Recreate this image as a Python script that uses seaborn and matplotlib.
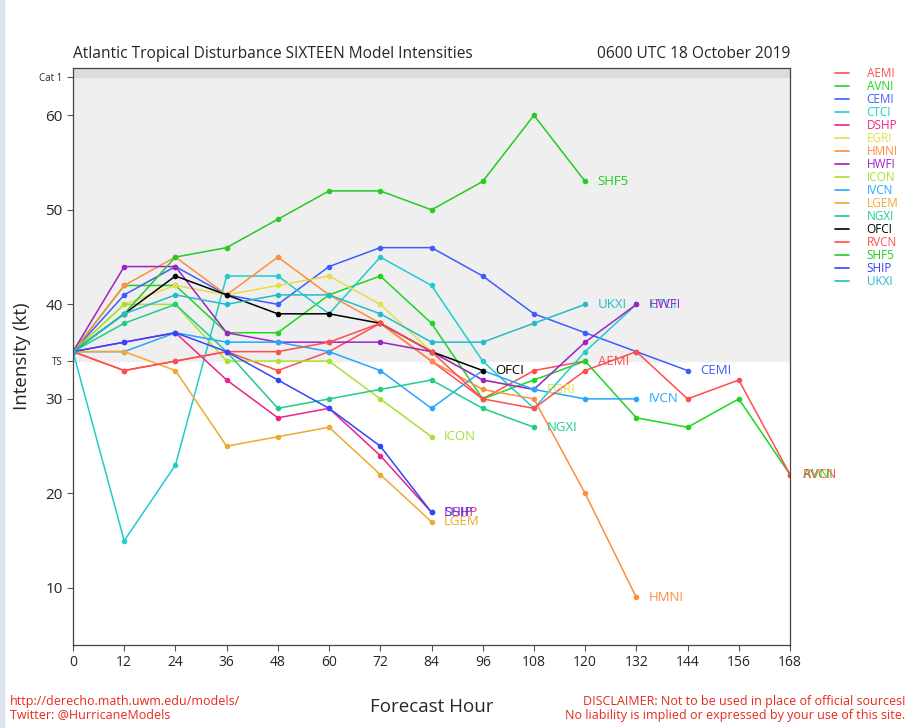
import numpy as np
import pandas as pd
import matplotlib
matplotlib.use("Agg")
import matplotlib.pyplot as plt
from matplotlib.lines import Line2D
from matplotlib.patches import Rectangle
import seaborn as sns

# ---------------- data ----------------
hours = [0, 12, 24, 36, 48, 60, 72, 84, 96, 108, 120, 132, 144, 156, 168]
models = ["AEMI", "AVNI", "CEMI", "CTCI", "DSHP", "EGRI", "HMNI", "HWFI",
          "ICON", "IVCN", "LGEM", "NGXI", "OFCI", "RVCN", "SHF5", "SHIP", "UKXI"]

AEMI = [35, 33, 34, 35, 33, 35, 38, 34, 30, 33, 34]
AVNI = [35, 42, 42, 37, 37, 41, 43, 38, 30, 32, 34, 28, 27, 30, 22]
CEMI = [35, 41, 44, 41, 40, 44, 46, 46, 43, 39, 37, 35, 33]
CTCI = [35, 15, 23, 43, 43, 39, 45, 42, 34, 29, 35, 40]
DSHP = [35, 36, 37, 32, 28, 29, 24, 18]
EGRI = [35, 40, 42, 41, 42, 43, 40, 35, 32, 31]
HMNI = [35, 42, 45, 41, 45, 41, 38, 34, 31, 30, 20, 9]
HWFI = [35, 44, 44, 37, 36, 36, 36, 35, 32, 31, 36, 40]
ICON = [35, 40, 40, 34, 34, 34, 30, 26]
IVCN = [35, 35, 37, 36, 36, 35, 33, 29, 33, 31, 30, 30]
LGEM = [35, 35, 33, 25, 26, 27, 22, 17]
NGXI = [35, 38, 40, 35, 29, 30, 31, 32, 29, 27]
OFCI = [35, 39, 43, 41, 39, 39, 38, 35, 33]
RVCN = [35, 33, 34, 35, 35, 36, 38, 35, 30, 29, 33, 35, 30, 32, 22]
SHF5 = [35, 39, 45, 46, 49, 52, 52, 50, 53, 60, 53]
SHIP = [35, 36, 37, 35, 32, 29, 25, 18]
UKXI = [35, 39, 41, 40, 41, 41, 39, 36, 36, 38, 40]

series = {"AEMI": AEMI, "AVNI": AVNI, "CEMI": CEMI, "CTCI": CTCI, "DSHP": DSHP,
          "EGRI": EGRI, "HMNI": HMNI, "HWFI": HWFI, "ICON": ICON, "IVCN": IVCN,
          "LGEM": LGEM, "NGXI": NGXI, "OFCI": OFCI, "RVCN": RVCN, "SHF5": SHF5,
          "SHIP": SHIP, "UKXI": UKXI}

colors = {"AEMI": "#ff4d4d", "AVNI": "#1ed61e", "CEMI": "#3d5cff", "CTCI": "#22cccc",
          "DSHP": "#ee2288", "EGRI": "#e8dc4a", "HMNI": "#ff8c40", "HWFI": "#a020c8",
          "ICON": "#a6e22e", "IVCN": "#22a8ff", "LGEM": "#f0a830", "NGXI": "#22cc88",
          "OFCI": "#000000", "RVCN": "#ff4d4d", "SHF5": "#22cc22", "SHIP": "#3344ff",
          "UKXI": "#22bbcc"}

ts_kt = 34
cat1_kt = 64

rows = []
for m in models:
    for h, v in zip(hours, series[m]):
        rows.append({"model": m, "hour": h, "kt": v})
df = pd.DataFrame(rows)

# ---------------- plot ----------------
sns.set_style("white")
plt.rcParams['font.family'] = ['Open Sans', 'DejaVu Sans']

fig = plt.figure(figsize=(9.13, 7.28), dpi=100)
fig.patches.append(Rectangle((0, 0), 0.004, 1, transform=fig.transFigure,
                             color="#dde4ee", zorder=0))
ax = fig.add_axes([73 / 913, 83 / 728, (790 - 73) / 913, (645 - 68) / 728])

ax.set_xlim(0, 168)
ax.set_ylim(3.97, 65)
ax.axhspan(ts_kt, cat1_kt, color="#efefef", zorder=0)
ax.axhspan(cat1_kt, 65, color="#dcdcdc", zorder=0)

sns.lineplot(data=df, x="hour", y="kt", hue="model", palette=colors,
             hue_order=models, units="model", estimator=None, sort=False,
             marker="o", markersize=4, markeredgewidth=0, linewidth=1.1,
             legend=False, ax=ax)

# end labels
for m in models:
    vals = series[m]
    h = hours[len(vals) - 1]
    ax.annotate(m, (h, vals[-1]), xytext=(9, 0), textcoords="offset points",
                va="center", ha="left", color=colors[m], fontsize=9.5,
                annotation_clip=False)

ax.set_xticks(hours)
ax.set_xticklabels([str(h) for h in hours], fontsize=10)
yt = [10, 20, 30, 40, 50, 60, ts_kt, cat1_kt]
ax.set_yticks(yt)
ax.set_yticklabels(["10", "20", "30", "40", "50", "60", "TS", "Cat 1"])
for lab in ax.get_yticklabels():
    if lab.get_text() in ("TS", "Cat 1"):
        lab.set_fontsize(7)
    else:
        lab.set_fontsize(11)
ax.tick_params(axis="both", length=4, width=0.8, color="#555555", direction="out",
               left=True, bottom=True)
for s in ax.spines.values():
    s.set_color("#444444")
    s.set_linewidth(0.9)

ax.set_xlabel("Forecast Hour", fontsize=13.5, labelpad=20)
ax.set_ylabel("Intensity (kt)", fontsize=13.5, labelpad=6)

fig.text(73 / 913, 1 - 54 / 728, "Atlantic Tropical Disturbance SIXTEEN Model Intensities",
         fontsize=11.2, ha="left", va="center")
fig.text(790 / 913, 1 - 54 / 728, "0600 UTC 18 October 2019",
         fontsize=11.2, ha="right", va="center")

# legend
handles = [Line2D([0], [0], color=colors[m], lw=1.2) for m in models]
leg = fig.legend(handles, models, loc="upper left", bbox_to_anchor=(830 / 913, 1 - 62 / 728),
                 frameon=False, fontsize=8.5, handlelength=1.2, handletextpad=1.5,
                 labelspacing=0.0, borderaxespad=0)
for t, m in zip(leg.get_texts(), models):
    t.set_color(colors[m])

# footer
fig.text(10 / 913, 1 - 702 / 728, "http://derecho.math.uwm.edu/models/",
         color="#e8291c", fontsize=9, ha="left", va="center")
fig.text(10 / 913, 1 - 715 / 728, "Twitter: @HurricaneModels",
         color="#e8291c", fontsize=9, ha="left", va="center")
fig.text(905 / 913, 1 - 702 / 728, "DISCLAIMER: Not to be used in place of official sources!",
         color="#e8291c", fontsize=9, ha="right", va="center")
fig.text(905 / 913, 1 - 715 / 728, "No liability is implied or expressed by your use of this site.",
         color="#e8291c", fontsize=9, ha="right", va="center")

fig.savefig("out.png", dpi=100)
